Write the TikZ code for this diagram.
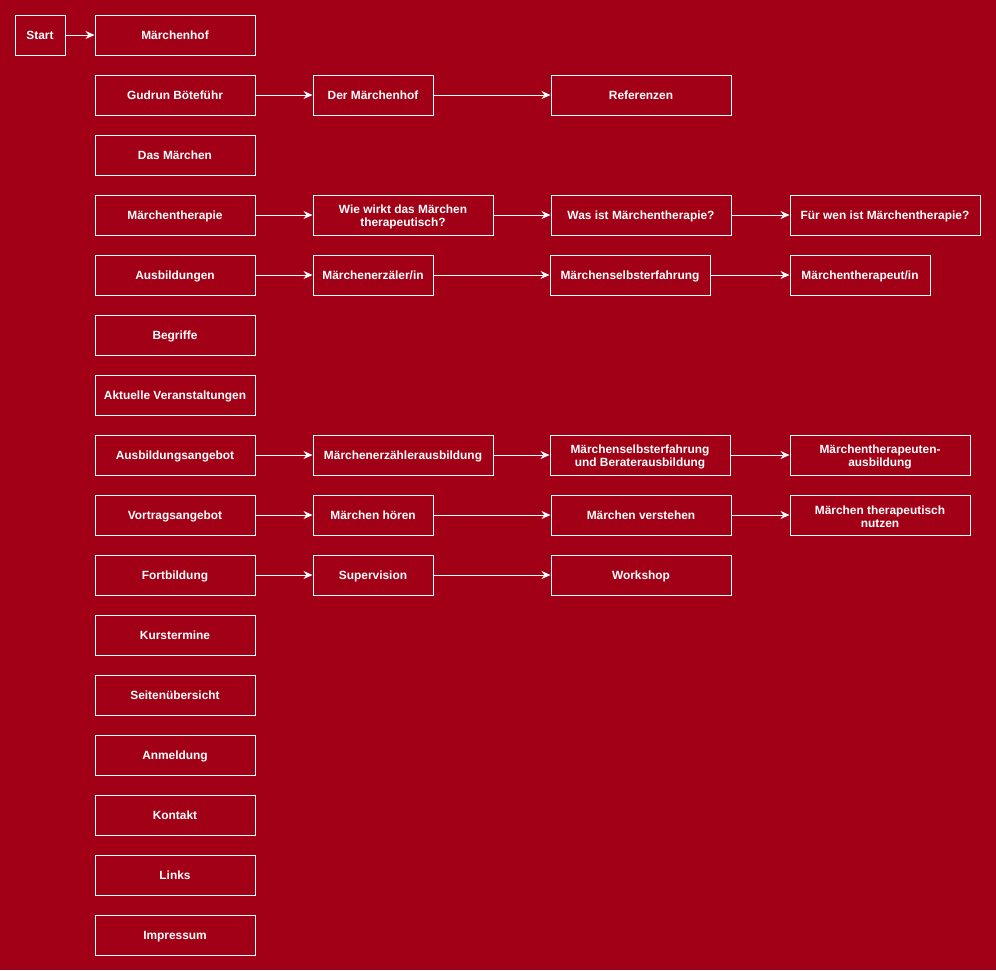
\documentclass[tikz,border=0pt]{standalone}
\usepackage{fontspec}
\setmainfont{Liberation Sans}
\usetikzlibrary{arrows.meta}
\definecolor{bgred}{HTML}{A20016}
\newcommand{\topgap}{\rule{0pt}{13pt}}
\tikzset{
  box/.style={draw=white, line width=1pt, fill=bgred, text=white, font=\bfseries\fontsize{11.9}{13}\selectfont, align=center, minimum height=40pt, inner sep=2pt},
  one/.style={text height=8.5pt, text depth=0pt},
  conn/.style={draw=white, line width=1pt, -{Stealth[length=9pt,width=8pt,inset=3pt]}}
}
\begin{document}
\begin{tikzpicture}[x=1pt,y=-1pt]
\fill[bgred] (0,0) rectangle (996,970);
\useasboundingbox (0,0) rectangle (996,970);
% column 1
\node[box, one, minimum width=50pt] (start) at (40,35) {Start};
\node[box, one, minimum width=160pt] (c1) at (175,35) {Märchenhof};
\node[box, one, minimum width=160pt] (c2) at (175,95) {Gudrun Böteführ};
\node[box, one, minimum width=160pt] (c3) at (175,155) {Das Märchen};
\node[box, one, minimum width=160pt] (c4) at (175,215) {Märchentherapie};
\node[box, one, minimum width=160pt] (c5) at (175,275) {Ausbildungen};
\node[box, one, minimum width=160pt] (c6) at (175,335) {Begriffe};
\node[box, one, minimum width=160pt] (c7) at (175,395) {Aktuelle Veranstaltungen};
\node[box, one, minimum width=160pt] (c8) at (175,455) {Ausbildungsangebot};
\node[box, one, minimum width=160pt] (c9) at (175,515) {Vortragsangebot};
\node[box, one, minimum width=160pt] (c10) at (175,575) {Fortbildung};
\node[box, one, minimum width=160pt] (c11) at (175,635) {Kurstermine};
\node[box, one, minimum width=160pt] (c12) at (175,695) {Seitenübersicht};
\node[box, one, minimum width=160pt] (c13) at (175,755) {Anmeldung};
\node[box, one, minimum width=160pt] (c14) at (175,815) {Kontakt};
\node[box, one, minimum width=160pt] (c15) at (175,875) {Links};
\node[box, one, minimum width=160pt] (c16) at (175,935) {Impressum};
% row 2
\node[box, one, minimum width=120pt] (r2a) at (373,95) {Der Märchenhof};
\node[box, one, minimum width=180pt] (r2b) at (641,95) {Referenzen};
% row 4
\node[box, minimum width=180pt] (r4a) at (403,215) {\topgap Wie wirkt das Märchen\\therapeutisch?};
\node[box, one, minimum width=180pt] (r4b) at (641,215) {Was ist Märchentherapie?};
\node[box, one, minimum width=190pt] (r4c) at (885,215) {Für wen ist Märchentherapie?};
% row 5
\node[box, one, minimum width=120pt] (r5a) at (373,275) {Märchenerzäler/in};
\node[box, one, minimum width=160pt] (r5b) at (630,275) {Märchenselbsterfahrung};
\node[box, one, minimum width=140pt] (r5c) at (860,275) {Märchentherapeut/in};
% row 8
\node[box, one, minimum width=180pt] (r8a) at (403,455) {Märchenerzählerausbildung};
\node[box, minimum width=180pt] (r8b) at (640,455) {\topgap Märchenselbsterfahrung\\und Beraterausbildung};
\node[box, minimum width=180pt] (r8c) at (880,455) {\topgap Märchentherapeuten-\\ausbildung};
% row 9
\node[box, one, minimum width=120pt] (r9a) at (373,515) {Märchen hören};
\node[box, one, minimum width=180pt] (r9b) at (641,515) {Märchen verstehen};
\node[box, minimum width=180pt] (r9c) at (880,515) {\topgap Märchen therapeutisch\\nutzen};
% row 10
\node[box, one, minimum width=120pt] (r10a) at (373,575) {Supervision};
\node[box, one, minimum width=180pt] (r10b) at (641,575) {Workshop};
% connectors
\draw[conn] (start) -- (c1);
\draw[conn] (c2) -- (r2a);
\draw[conn] (r2a) -- (r2b);
\draw[conn] (c4) -- (r4a);
\draw[conn] (r4a) -- (r4b);
\draw[conn] (r4b) -- (r4c);
\draw[conn] (c5) -- (r5a);
\draw[conn] (r5a) -- (r5b);
\draw[conn] (r5b) -- (r5c);
\draw[conn] (c8) -- (r8a);
\draw[conn] (r8a) -- (r8b);
\draw[conn] (r8b) -- (r8c);
\draw[conn] (c9) -- (r9a);
\draw[conn] (r9a) -- (r9b);
\draw[conn] (r9b) -- (r9c);
\draw[conn] (c10) -- (r10a);
\draw[conn] (r10a) -- (r10b);
\end{tikzpicture}
\end{document}
